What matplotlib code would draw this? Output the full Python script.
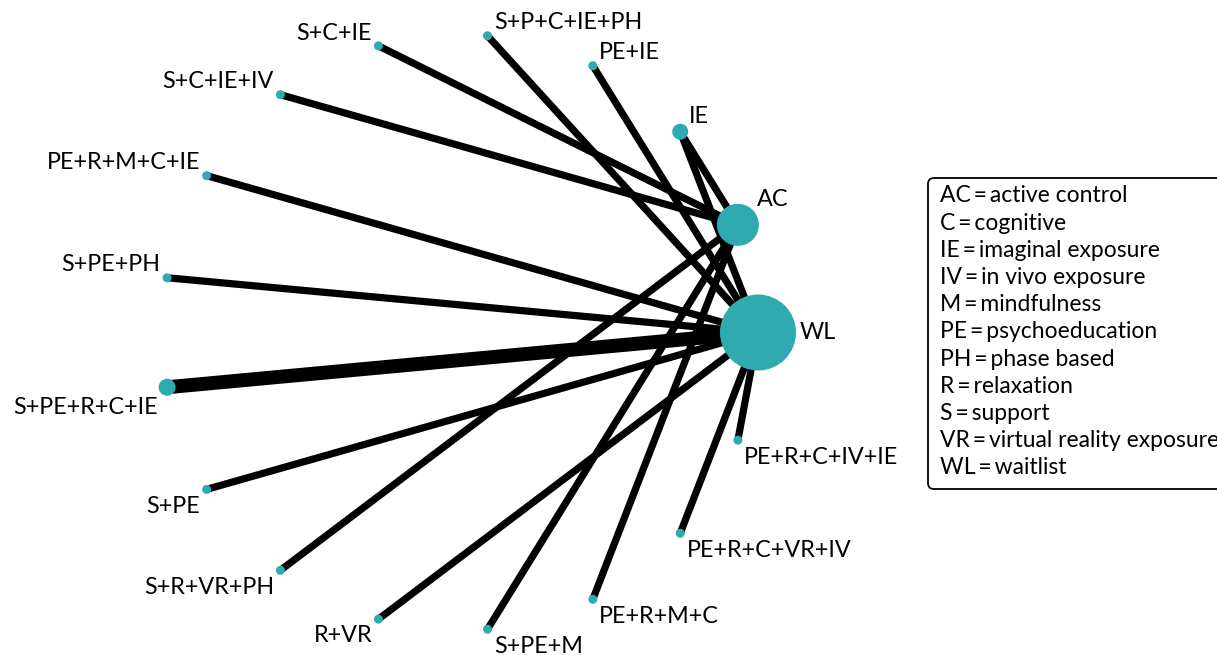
import numpy as np
import matplotlib
matplotlib.use("Agg")
import matplotlib.pyplot as plt
from matplotlib.patches import Circle, FancyBboxPatch

plt.rcParams['font.family'] = ['Lato', 'DejaVu Sans']

# Nodes in circular order (counter-clockwise starting at WL)
nodes = ["WL", "AC", "IE", "PE+IE", "S+P+C+IE+PH", "S+C+IE", "S+C+IE+IV",
         "PE+R+M+C+IE", "S+PE+PH", "S+PE+R+C+IE", "S+PE", "S+R+VR+PH",
         "R+VR", "S+PE+M", "PE+R+M+C", "PE+R+C+VR+IV", "PE+R+C+IV+IE"]
# node size (relative weight, drawn as radius)
node_size = [38, 21, 8, 4.5, 4.5, 4.5, 4.5, 4.5, 4.5, 8.5, 4.5, 4.5, 4.5, 4.5, 4.5, 4.5, 4.5]

# Edges (comparisons) and number of studies
edge_from = ["IE", "S+C+IE", "S+C+IE+IV", "S+R+VR+PH", "S+PE+M", "PE+R+M+C",
             "IE", "PE+IE", "S+P+C+IE+PH", "PE+R+M+C+IE", "S+PE+PH", "S+PE+R+C+IE",
             "S+PE", "R+VR", "PE+R+C+VR+IV", "PE+R+C+IV+IE"]
edge_to = ["AC", "AC", "AC", "AC", "AC", "AC",
           "WL", "WL", "WL", "WL", "WL", "WL", "WL", "WL", "WL", "WL"]
edge_n = [1, 1, 1, 1, 1, 1, 1, 1, 1, 1, 1, 2, 1, 1, 1, 1]

legend_abbr = ["AC", "C", "IE", "IV", "M", "PE", "PH", "R", "S", "VR", "WL"]
legend_desc = ["active control", "cognitive", "imaginal exposure", "in vivo exposure",
               "mindfulness", "psychoeducation", "phase based", "relaxation",
               "support", "virtual reality exposure", "waitlist"]

node_color = "#2EAAB0"
FS = 16.8
W, H = 1217, 655
fig = plt.figure(figsize=(W / 100, H / 100), dpi=100)
ax = fig.add_axes([0, 0, 1, 1])
ax.set_xlim(0, W)
ax.set_ylim(H, 0)
ax.set_aspect('equal')
ax.axis('off')

# circular layout
cx, cy, R = 460.0, 332.5, 298.0
n = len(nodes)
theta = 2 * np.pi * np.arange(n) / n
pos = {name: (cx + R * np.cos(t), cy - R * np.sin(t)) for name, t in zip(nodes, theta)}

for a, b, k in zip(edge_from, edge_to, edge_n):
    (x1, y1), (x2, y2) = pos[a], pos[b]
    ax.plot([x1, x2], [y1, y2], color="black", lw=5.2 * k ** 0.95,
            solid_capstyle='butt', zorder=1)

for name, r, t in zip(nodes, node_size, theta):
    x, y = pos[name]
    ax.add_patch(Circle((x, y), r, color=node_color, zorder=2, lw=0))
    c, s = np.cos(t), np.sin(t)
    if name == "WL":
        ax.text(x + r + 4, y, name, ha='left', va='center', fontsize=FS, zorder=3)
        continue
    d = r * 0.75 + 3
    dx = d if c > 0 else -d
    dy = -d if s > 0 else d
    ha = 'left' if c > 0 else 'right'
    va = 'baseline' if s > 0 else 'top'
    ax.text(x + dx, y + dy, name, ha=ha, va=va, fontsize=FS, zorder=3)

# legend box
box = FancyBboxPatch((928, 178), 320, 311, boxstyle="round,pad=0,rounding_size=6",
                     fc="white", ec="black", lw=1.3, zorder=4, clip_on=False)
ax.add_patch(box)
for i, (ab, de) in enumerate(zip(legend_abbr, legend_desc)):
    ax.text(940, 196 + i * 27.2, f"{ab}\u2009=\u2009{de}", ha='left', va='center',
            fontsize=16.5, zorder=5)

fig.savefig("out.png", dpi=100)
